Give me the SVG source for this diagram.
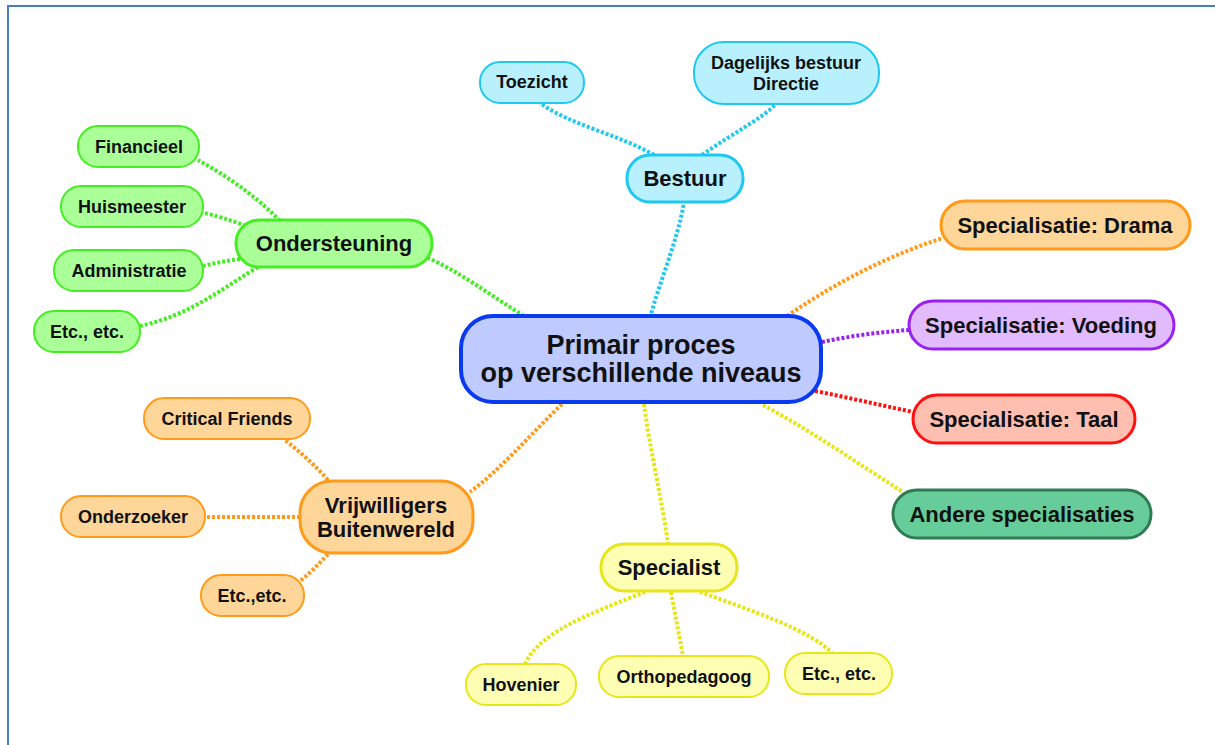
<svg xmlns="http://www.w3.org/2000/svg" width="1215" height="745" viewBox="0 0 1215 745">
<style>
text{font-family:"Liberation Sans",Arial,sans-serif;font-weight:bold;fill:#111;text-anchor:middle}
.t1{font-size:22px}
.t2{font-size:18px}
.t0{font-size:27px}
.c{fill:none;stroke-width:4;stroke-dasharray:3 2}
.cy{stroke:#22c8f0}.gr{stroke:#44ee22}.or{stroke:#ff9a1a}.pu{stroke:#9922ee}.re{stroke:#ff1111}.ye{stroke:#e6e610}
.ncy{fill:#b8f0fd;stroke:#1ec8f0}
.ngr{fill:#aaff99;stroke:#44ee22}
.nor{fill:#ffd699;stroke:#ff9a1a}
.npu{fill:#e2bbff;stroke:#9922ee}
.nre{fill:#ffbfb0;stroke:#ff1111}
.nte{fill:#66cc99;stroke:#2e7d52}
.nye{fill:#ffffb3;stroke:#e6e61a}
.l1{stroke-width:3}
.l2{stroke-width:2}
</style>
<rect width="1215" height="745" fill="#ffffff"/>
<path d="M8,745 L8,6 L1215,6" fill="none" stroke="#4a7ebb" stroke-width="2"/>
<g id="connectors">
<path class="c cy" d="M650,318 C660,280 678,240 684,202"/>
<path class="c cy" d="M654,155 C620,135 570,125 540,103"/>
<path class="c cy" d="M702,155 C730,135 760,120 776,104"/>
<path class="c gr" d="M524,316 C490,295 460,272 428,258"/>
<path class="c gr" d="M280,221 C255,195 225,175 198,160"/>
<path class="c gr" d="M246,226 C230,220 215,215 203,213"/>
<path class="c gr" d="M240,259 C225,261 215,263 203,266"/>
<path class="c gr" d="M258,267 C220,290 190,315 140,326"/>
<path class="c or" d="M787,316 C840,280 890,255 943,238"/>
<path class="c or" d="M562,404 C530,435 500,470 470,492"/>
<path class="c or" d="M328,480 C315,465 300,452 285,440"/>
<path class="c or" d="M300,517 L205,517"/>
<path class="c or" d="M328,554 C318,565 310,573 299,582"/>
<path class="c pu" d="M822,342 C850,336 880,332 909,330"/>
<path class="c re" d="M815,391 C850,398 880,405 913,412"/>
<path class="c ye" d="M763,405 C810,430 860,465 903,492"/>
<path class="c ye" d="M644,404 C650,450 662,500 668,544"/>
<path class="c ye" d="M645,592 C600,610 540,630 525,664"/>
<path class="c ye" d="M671,592 L683,656"/>
<path class="c ye" d="M700,592 C750,610 810,630 832,653"/>
</g>
<g id="central">
<rect x="461" y="316" width="360" height="86" rx="32" fill="#bfcaff" stroke="#0a3af0" stroke-width="4"/>
<text class="t0" x="641" y="354">Primair proces</text>
<text class="t0" x="641" y="382">op verschillende niveaus</text>
</g>
<g id="bestuur">
<rect class="ncy l1" x="627" y="155" width="116" height="47" rx="23"/>
<text class="t1" x="685" y="186">Bestuur</text>
</g>
<g id="toezicht">
<rect class="ncy l2" x="480" y="62" width="104" height="41" rx="20"/>
<text class="t2" x="532" y="88">Toezicht</text>
</g>
<g id="dagelijks">
<rect class="ncy l2" x="694" y="42" width="185" height="62" rx="30"/>
<text class="t2" x="786" y="69">Dagelijks bestuur</text>
<text class="t2" x="786" y="90">Directie</text>
</g>
<g id="ondersteuning">
<rect class="ngr l1" x="236" y="220" width="196" height="47" rx="23"/>
<text class="t1" x="334" y="251">Ondersteuning</text>
</g>
<g id="financieel">
<rect class="ngr l2" x="78" y="126" width="121" height="41" rx="20"/>
<text class="t2" x="139" y="153">Financieel</text>
</g>
<g id="huismeester">
<rect class="ngr l2" x="61" y="186" width="142" height="41" rx="20"/>
<text class="t2" x="132" y="213">Huismeester</text>
</g>
<g id="administratie">
<rect class="ngr l2" x="54" y="250" width="149" height="41" rx="20"/>
<text class="t2" x="129" y="277">Administratie</text>
</g>
<g id="etc-green">
<rect class="ngr l2" x="34" y="311" width="106" height="41" rx="20"/>
<text class="t2" x="87" y="338">Etc., etc.</text>
</g>
<g id="drama">
<rect class="nor l1" x="941" y="201" width="249" height="48" rx="24"/>
<text class="t1" x="1065" y="233">Specialisatie: Drama</text>
</g>
<g id="voeding">
<rect class="npu l1" x="909" y="301" width="265" height="48" rx="24"/>
<text class="t1" x="1041" y="333">Specialisatie: Voeding</text>
</g>
<g id="taal">
<rect class="nre l1" x="913" y="395" width="222" height="48" rx="24"/>
<text class="t1" x="1024" y="427">Specialisatie: Taal</text>
</g>
<g id="andere">
<rect class="nte l1" x="893" y="490" width="258" height="48" rx="24"/>
<text class="t1" x="1022" y="522">Andere specialisaties</text>
</g>
<g id="vrijwilligers">
<rect class="nor l1" x="300" y="481" width="173" height="72" rx="32"/>
<text class="t1" x="386" y="513">Vrijwilligers</text>
<text class="t1" x="386" y="537">Buitenwereld</text>
</g>
<g id="critical">
<rect class="nor l2" x="144" y="398" width="166" height="41" rx="20"/>
<text class="t2" x="227" y="425">Critical Friends</text>
</g>
<g id="onderzoeker">
<rect class="nor l2" x="61" y="496" width="144" height="41" rx="20"/>
<text class="t2" x="133" y="523">Onderzoeker</text>
</g>
<g id="etc-orange">
<rect class="nor l2" x="201" y="575" width="103" height="41" rx="20"/>
<text class="t2" x="252" y="602">Etc.,etc.</text>
</g>
<g id="specialist">
<rect class="nye l1" x="601" y="544" width="136" height="47" rx="23"/>
<text class="t1" x="669" y="575">Specialist</text>
</g>
<g id="hovenier">
<rect class="nye l2" x="466" y="664" width="110" height="41" rx="20"/>
<text class="t2" x="521" y="691">Hovenier</text>
</g>
<g id="orthopedagoog">
<rect class="nye l2" x="599" y="656" width="170" height="41" rx="20"/>
<text class="t2" x="684" y="683">Orthopedagoog</text>
</g>
<g id="etc-yellow">
<rect class="nye l2" x="785" y="653" width="107" height="41" rx="20"/>
<text class="t2" x="839" y="680">Etc., etc.</text>
</g>
</svg>
